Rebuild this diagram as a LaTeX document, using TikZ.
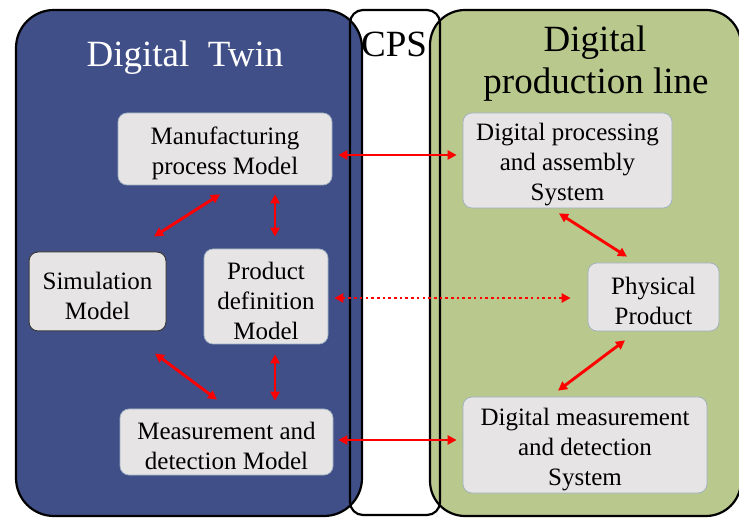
\documentclass[tikz,border=0pt]{standalone}
\usepackage{fontspec}
\setmainfont{Liberation Serif}
\usetikzlibrary{arrows.meta,calc}
\definecolor{twinblue}{HTML}{414F89}
\definecolor{linegreen}{HTML}{B9C88D}
\definecolor{boxgray}{HTML}{E7E4E5}
\definecolor{boxedge}{HTML}{9DB0C0}
\definecolor{simedge}{HTML}{3A3A3A}
% extra room above the first line, so the text sits a little lower in its box
\newcommand\toppad{\rule{0pt}{26pt}}
\tikzset{
  model/.style={rounded corners=9pt, fill=boxgray, draw=boxedge, line width=0.7pt,
    align=center, inner sep=0pt, font=\fontsize{25}{30}\selectfont},
  panel/.style={line width=2.2pt, draw=black},
  title/.style={font=\fontsize{37}{42}\selectfont, inner sep=0pt, anchor=base},
  link/.style={draw=red, line width=2.9pt, {Triangle[length=9pt,width=9pt]}-{Triangle[length=9pt,width=9pt]}},
  dotlink/.style={link, dash pattern=on 2.6pt off 3.1pt}
}
\begin{document}
\begin{tikzpicture}[x=1pt,y=-1pt]
\useasboundingbox (0,0) rectangle (739,518);
\clip (0,0) rectangle (739,518);
\fill[white] (0,0) rectangle (739,518);
% panel fills: CPS band underneath, the two sides over it
\fill[white, rounded corners=13pt] (350,10) rectangle (440,515);
\fill[twinblue, rounded corners=38pt] (16,10) rectangle (362,516);
\fill[linegreen, rounded corners=35pt] (430,10) rectangle (741,516);
% panel outlines
\draw[panel, rounded corners=38pt] (16,10) rectangle (362,516);
\draw[panel, rounded corners=35pt] (430,10) rectangle (741,516);
\draw[panel, rounded corners=13pt] (350,10) rectangle (440,515);
% titles
\node[title, text=white] (tTwin) at (185,67) {Digital\ \ Twin};
\node[title] (tCPS) at (394,57) {CPS};
\node[title] (tLine1) at (595,52) {Digital};
\node[title] (tLine2) at (596,94) {production line};
% models
\node[model, minimum width=214pt, minimum height=72pt] (mfg) at (225,149) {\toppad Manufacturing\\process Model};
\node[model, draw=simedge, line width=1pt, minimum width=137pt, minimum height=79pt] (sim) at (97.5,291.5) {\toppad Simulation\\Model};
\node[model, minimum width=124pt, minimum height=95pt] (prod) at (266,296.5) {\toppad Product\\definition\\Model};
\node[model, minimum width=213pt, minimum height=66pt] (meas) at (226.5,442) {\toppad Measurement and\\detection Model};
\node[model, minimum width=209pt, minimum height=95pt] (dproc) at (567.5,160.5) {\toppad Digital processing\\and assembly\\System};
\node[model, minimum width=131pt, minimum height=68pt] (phys) at (653.5,297) {\toppad Physical\\Product};
\node[model, minimum width=244pt, minimum height=96pt] (dmeas) at (585,445) {\toppad Digital measurement\\and detection\\System};
% links
\draw[link] ($(mfg.east)+(6,6)$) -- ($(mfg.east -| dproc.west)+(-6,6)$);
\draw[link] ($(mfg.south)+(-5,9)$) -- ($(sim.north)+(56.5,-15)$);
\draw[link] ($(mfg.south)+(50,9)$) -- ($(prod.north)+(9,-12)$);
\draw[link] ($(sim.south)+(57.5,22)$) -- ($(meas.north)+(-9.5,-9)$);
\draw[link] ($(prod.south)+(9,10)$) -- ($(meas.north)+(48.5,-8)$);
\draw[dotlink] ($(prod.east)+(6,1.5)$) -- ($(prod.east -| phys.west)+(-17,1.5)$);
\draw[link] ($(meas.east)+(5,-2)$) -- ($(meas.east -| dmeas.west)+(-6,-2)$);
\draw[link] ($(dproc.south)+(-8.5,5)$) -- ($(phys.north)+(-26.5,-6)$);
\draw[link] ($(phys.south)+(-28.5,9)$) -- ($(dmeas.north)+(-27,-6)$);
\end{tikzpicture}
\end{document}
